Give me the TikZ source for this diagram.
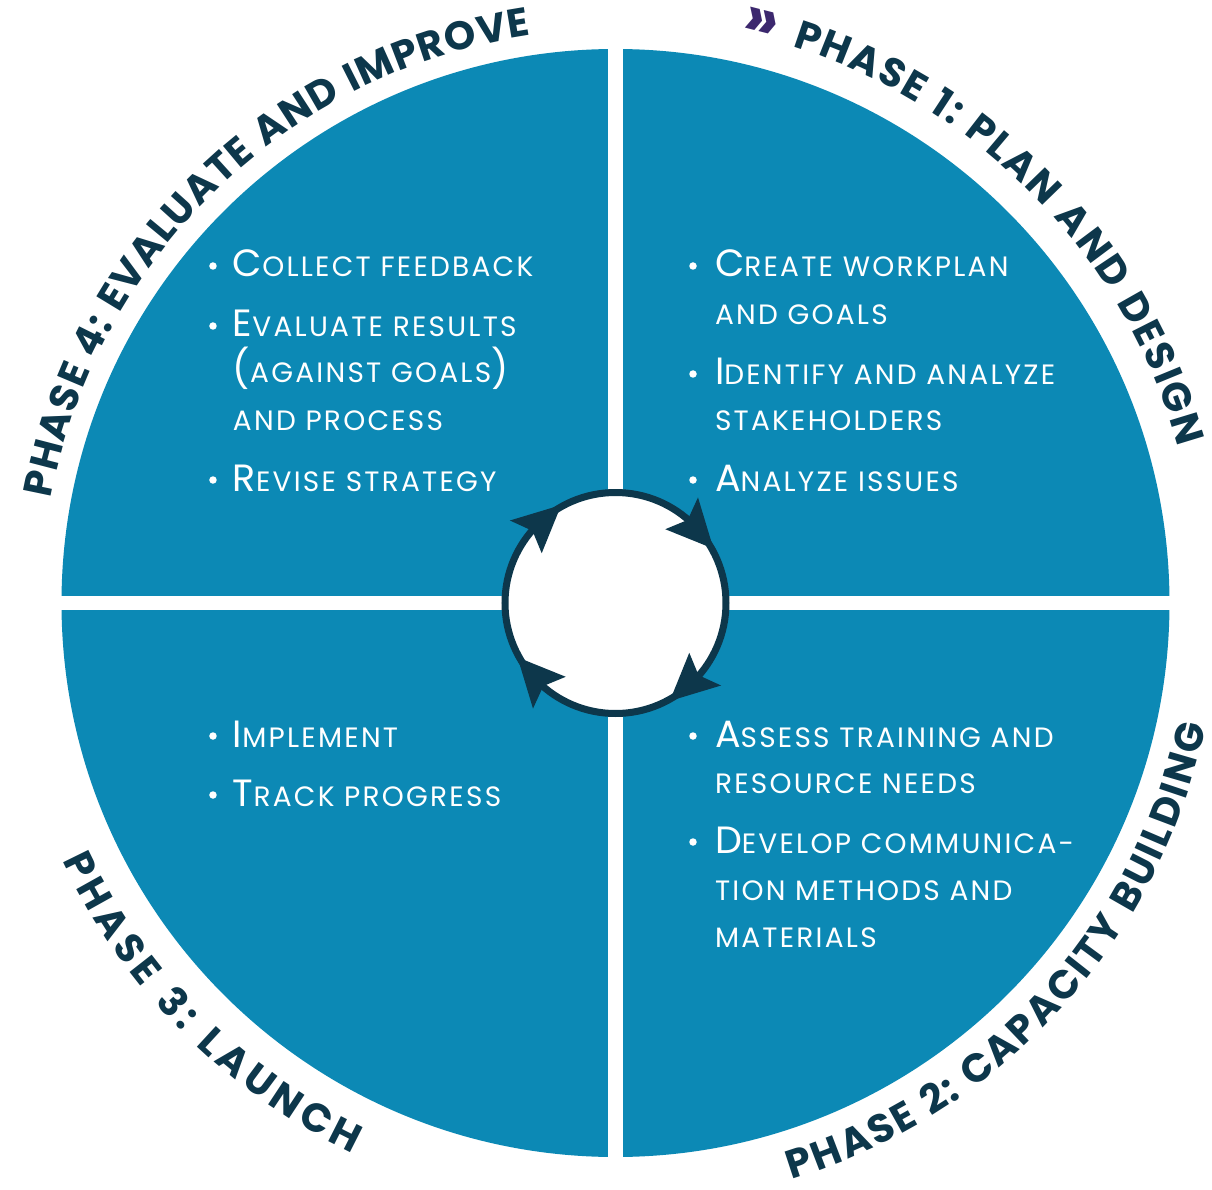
\documentclass[tikz,border=0pt]{standalone}
\usepackage{fontspec}
\setmainfont{Poppins}
\newfontfamily\titlefont{Poppins}[LetterSpace=2]
\newfontfamily\bodyfont{Poppins}[LetterSpace=8]
\usetikzlibrary{decorations.text}
\definecolor{qblue}{RGB}{12,137,181}
\definecolor{navy}{RGB}{13,55,75}
\definecolor{chev}{RGB}{60,40,110}
\newcommand\BigL[1]{{\fontsize{38}{40}\selectfont #1}}
\newcommand\SmL[1]{{\fontsize{28}{30}\selectfont #1}}
\newcommand\TitleFmt{\titlefont\bfseries\fontsize{40}{40}\selectfont\color{navy}}
\begin{document}
\begin{tikzpicture}[x=1pt,y=1pt,
  body/.style={anchor=base west, inner sep=0pt, outer sep=0pt, text=white, font=\bodyfont},
  dot/.style={circle, fill=white, inner sep=0pt, minimum size=7.5pt},
  hubstyle/.style={circle, draw=navy, line width=7pt, fill=white, minimum size=221pt, inner sep=0pt},
  arrowtip/.style={fill=navy},
  curvedtitle/.style={decorate, decoration={text along path, text align={fit to path}, text={|\TitleFmt|#1}}}]
\useasboundingbox (-615.5,-586) rectangle (596.5,603);
\fill[white] (-615.5,-586) rectangle (596.5,603);
% quadrant disk
\fill[qblue] (0,0) circle (554);
\fill[white] (-7.5,-580) rectangle (7.5,580);
\fill[white] (-580,-7) rectangle (580,7);
% hub
\node[hubstyle] (hub) at (0,0) {};
\foreach \b in {144,54,-36,-126}{
  \fill[arrowtip] ({\b-2}:134) -- ({\b-25}:112) -- ({\b+2}:89) -- ({\b-5}:110) -- cycle;
}
% curved titles
\path[curvedtitle={PHASE 4: EVALUATE AND IMPROVE}]
  (169.5:574) arc[start angle=169.5, end angle=98.5, radius=574];
\path[curvedtitle={PHASE 1: PLAN AND DESIGN}]
  (72.4:584) arc[start angle=72.4, end angle=15.5, radius=584];
\path[curvedtitle={PHASE 2: CAPACITY BUILDING}]
  (-73:603) arc[start angle=-73, end angle=-11.8, radius=603];
\path[curvedtitle={PHASE 3: LAUNCH}]
  (205:610) arc[start angle=205, end angle=244.5, radius=610];
\node[rotate=-14.3, text=chev, inner sep=0pt, font=\titlefont\bfseries\fontsize{62}{62}\selectfont] (chevron) at (75.9:596) {»};
% top-left quadrant
\node[dot] (d41) at (-402.5,337) {};
\node[body] (t41) at (-382.5,326) {\BigL{C}\SmL{OLLECT FEEDBACK}};
\node[dot] (d42) at (-402.5,277) {};
\node[body] (t42) at (-382.5,266) {\BigL{E}\SmL{VALUATE RESULTS}};
\node[body] (t43) at (-382.5,220) {\BigL{(}\SmL{AGAINST GOALS}\BigL{)}};
\node[body] (t44) at (-382.5,172) {\SmL{AND PROCESS}};
\node[dot] (d45) at (-402.5,123) {};
\node[body] (t45) at (-382.5,112) {\BigL{R}\SmL{EVISE STRATEGY}};
% top-right quadrant
\node[dot] (d11) at (77.5,337) {};
\node[body] (t11) at (99.5,326) {\BigL{C}\SmL{REATE WORKPLAN}};
\node[body] (t12) at (99.5,278) {\SmL{AND GOALS}};
\node[dot] (d13) at (77.5,229) {};
\node[body] (t13) at (99.5,218) {\BigL{I}\SmL{DENTIFY AND ANALYZE}};
\node[body] (t14) at (99.5,172) {\SmL{STAKEHOLDERS}};
\node[dot] (d15) at (77.5,123) {};
\node[body] (t15) at (99.5,112) {\BigL{A}\SmL{NALYZE ISSUES}};
% bottom-left quadrant
\node[dot] (d31) at (-402.5,-133) {};
\node[body] (t31) at (-382.5,-144) {\BigL{I}\SmL{MPLEMENT}};
\node[dot] (d32) at (-402.5,-192) {};
\node[body] (t32) at (-382.5,-203) {\BigL{T}\SmL{RACK PROGRESS}};
% bottom-right quadrant
\node[dot] (d21) at (77.5,-133) {};
\node[body] (t21) at (99.5,-144) {\BigL{A}\SmL{SSESS TRAINING AND}};
\node[body] (t22) at (99.5,-190) {\SmL{RESOURCE NEEDS}};
\node[dot] (d23) at (77.5,-239) {};
\node[body] (t23) at (99.5,-250) {\BigL{D}\SmL{EVELOP COMMUNICA-}};
\node[body] (t24) at (99.5,-297) {\SmL{TION METHODS AND}};
\node[body] (t25) at (99.5,-344) {\SmL{MATERIALS}};
\end{tikzpicture}
\end{document}
